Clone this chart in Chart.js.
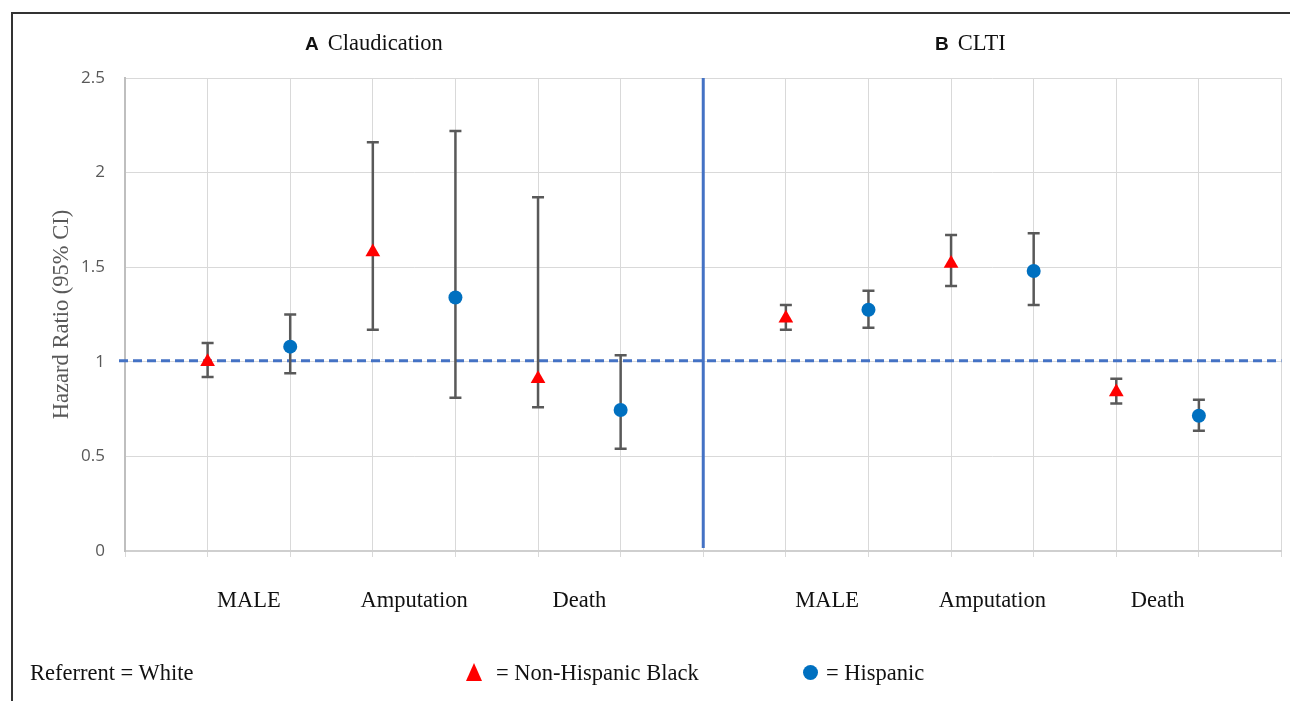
<!DOCTYPE html>
<html>
<head>
<meta charset="utf-8">
<script src="https://cdn.jsdelivr.net/npm/chart.js@4.4.1/dist/chart.umd.min.js"></script>
<style>
  html, body { margin: 0; padding: 0; background: #fff; }
  body { width: 1290px; height: 701px; position: relative; overflow: hidden; }
  #frame { position: absolute; left: 11px; top: 12px; width: 1300px; height: 720px;
           border-left: 2px solid #333; border-top: 2px solid #333; }
  canvas { position: absolute; left: 0; top: 0; }
  .panel { position: absolute; top: 30px; font-family: "Liberation Serif", serif; font-size: 22.5px; color: #111; white-space: nowrap; }
  .panel b { font-family: "Liberation Sans", Arial, sans-serif; font-size: 19px; margin-right: 9px; }
  .legend { position: absolute; top: 660px; font-family: "Liberation Serif", serif; font-size: 22.5px; color: #111; white-space: nowrap; }
  .tri { display: inline-block; width: 0; height: 0; border-left: 8px solid transparent; border-right: 8px solid transparent;
         border-bottom: 18px solid #ff0000; margin-right: 14px; vertical-align: -1px; }
  .dot { display: inline-block; width: 15px; height: 15px; border-radius: 50%; background: #0070c0; margin-right: 8px; vertical-align: 0px; }
</style>
</head>
<body>
<div id="frame"></div>
<canvas id="chart" width="1290" height="701"></canvas>
<div class="panel" style="left:305px"><b>A</b>Claudication</div>
<div class="panel" style="left:935px"><b>B</b>CLTI</div>
<div class="legend" style="left:30px">Referrent = White</div>
<div class="legend" style="left:466px"><span class="tri"></span>= Non-Hispanic Black</div>
<div class="legend" style="left:803px"><span class="dot"></span>= Hispanic</div>
<script>
// panels: Claudication (first 3 outcomes), CLTI (last 3)
const outcomes = ['MALE', 'Amputation', 'Death', 'MALE', 'Amputation', 'Death'];

// hazard ratios vs White, with 95% CI
const blackHR = [1.00, 1.58, 0.91, 1.23, 1.52, 0.84];
const blackLo = [0.92, 1.17, 0.76, 1.17, 1.40, 0.78];
const blackHi = [1.10, 2.16, 1.87, 1.30, 1.67, 0.91];

const hispHR = [1.08, 1.34, 0.745, 1.275, 1.48, 0.715];
const hispLo = [0.94, 0.81, 0.54, 1.18, 1.30, 0.635];
const hispHi = [1.25, 2.22, 1.035, 1.375, 1.68, 0.80];

const yTicks = [0, 0.5, 1, 1.5, 2, 2.5];
const refValue = 1;

// each outcome gets two slots, a gap slot sits between the two panels
function slot(i, k) {
    return i * 2 + 1 + k + (i >= 3 ? 1 : 0);
}
const divider = 7;

function points(vals, k) {
    const out = [];
    for (let i = 0; i < vals.length; i++) {
        out.push({ x: slot(i, k), y: vals[i] });
    }
    return out;
}

const overlays = {
    id: 'overlays',
    beforeDatasetsDraw(chart) {
        const ctx = chart.ctx;
        const xs = chart.scales.x;
        const ys = chart.scales.y;
        ctx.save();
        // panel divider
        ctx.strokeStyle = '#4472c4';
        ctx.lineWidth = 3;
        ctx.beginPath();
        ctx.moveTo(xs.getPixelForValue(divider), ys.getPixelForValue(2.5));
        ctx.lineTo(xs.getPixelForValue(divider), ys.getPixelForValue(0) - 3);
        ctx.stroke();
        // reference line HR = 1
        ctx.setLineDash([9, 5]);
        ctx.beginPath();
        ctx.moveTo(xs.left - 6, ys.getPixelForValue(refValue) - 1);
        ctx.lineTo(xs.right, ys.getPixelForValue(refValue) - 1);
        ctx.stroke();
        ctx.setLineDash([]);
        // error bars
        ctx.strokeStyle = '#595959';
        ctx.lineWidth = 2.5;
        const sets = [[blackLo, blackHi, 0], [hispLo, hispHi, 1]];
        sets.forEach(function (s) {
            for (let i = 0; i < s[0].length; i++) {
                const px = xs.getPixelForValue(slot(i, s[2]));
                const lo = ys.getPixelForValue(s[0][i]);
                const hi = ys.getPixelForValue(s[1][i]);
                ctx.beginPath();
                ctx.moveTo(px, lo); ctx.lineTo(px, hi);
                ctx.moveTo(px - 6, lo); ctx.lineTo(px + 6, lo);
                ctx.moveTo(px - 6, hi); ctx.lineTo(px + 6, hi);
                ctx.stroke();
            }
        });
        ctx.restore();
    }
};

new Chart(document.getElementById('chart'), {
    type: 'scatter',
    data: {
        datasets: [{
            label: 'Non-Hispanic Black',
            data: points(blackHR, 0),
            pointStyle: 'triangle',
            radius: 8.5,
            backgroundColor: '#ff0000',
            borderColor: '#ff0000',
            borderWidth: 0
        }, {
            label: 'Hispanic',
            data: points(hispHR, 1),
            pointStyle: 'circle',
            radius: 7,
            backgroundColor: '#0070c0',
            borderColor: '#0070c0',
            borderWidth: 0
        }]
    },
    options: {
        responsive: false,
        animation: false,
        events: [],
        layout: { padding: { top: 78, right: 5, left: 49, bottom: 0 } },
        plugins: { legend: { display: false }, tooltip: { enabled: false } },
        scales: {
            x: {
                type: 'linear', min: 0, max: 14,
                ticks: { display: false, stepSize: 1, maxTicksLimit: 20 },
                grid: { color: '#d9d9d9', lineWidth: 1, tickLength: 6 },
                border: { color: '#cfcfcf', width: 2 }
            },
            x2: {
                type: 'linear', position: 'bottom', min: 0, max: 14,
                afterBuildTicks: function (axis) {
                    axis.ticks = outcomes.map(function (o, i) { return { value: slot(i, 0) + 0.5 }; });
                },
                afterFit: function (axis) { axis.height = 144; },
                ticks: {
                    padding: 31,
                    color: '#111',
                    font: { family: 'Liberation Serif', size: 22.5 },
                    callback: function (v, i) { return outcomes[i]; }
                },
                grid: { display: false, drawTicks: false },
                border: { display: false }
            },
            y: {
                min: 0, max: 2.5,
                afterBuildTicks: function (axis) {
                    axis.ticks = yTicks.map(function (v) { return { value: v }; });
                },
                afterFit: function (axis) { axis.width = 76; },
                ticks: {
                    padding: 20,
                    color: '#595959',
                    font: { family: 'Open Sans', size: 17 },
                    callback: function (v) { return String(v); }
                },
                grid: { color: '#d9d9d9', lineWidth: 1, drawTicks: false },
                border: { color: '#bfbfbf', width: 2 },
                title: {
                    display: true,
                    text: 'Hazard Ratio (95% CI)',
                    color: '#595959',
                    font: { family: 'Liberation Serif', size: 22.5 },
                    padding: 0
                }
            }
        }
    },
    plugins: [overlays]
});
</script>
</body>
</html>
